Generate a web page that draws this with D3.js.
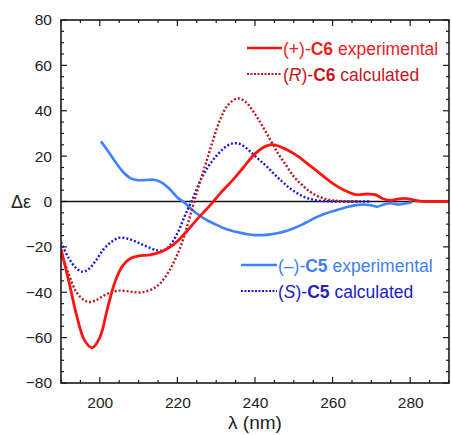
<!DOCTYPE html>
<html>
<head>
<meta charset="utf-8">
<script src="https://cdn.jsdelivr.net/npm/d3@7"></script>
<style>
  html, body { margin: 0; padding: 0; background: #fff; }
  svg { display: block; }
  text { font-family: "Liberation Sans", Arial, sans-serif; }
</style>
</head>
<body>
<svg id="chart" width="452" height="435"></svg>
<script>
// ECD spectra: wavelength (nm) and delta-epsilon pairs
const c6Experimental = [
  [190,-21],[192,-35],[194,-50],[196,-61],[198,-64.5],[200,-60],[202,-47],[204,-35],
  [206,-28],[208,-25],[210,-24],[213,-23.5],[216,-22],[219,-19],[222,-14],[225,-8],
  [228,-2.5],[231,3.5],[234,9],[237,15],[240,21],[243,24.5],[245,25],[248,23],
  [251,20],[254,16],[257,12],[260,8],[263,5],[266,3],[269,3.3],[271,3],[273,1.2],
  [275,0.5],[277,1.2],[279,1.3],[281,0.6],[283,0.1],[286,0],[290,0]
];
const c6Calculated = [
  [190,-22],[192,-32],[194,-40],[196,-43.5],[197.5,-44.3],[199,-43.5],[201,-41.5],
  [203,-40],[205,-39.3],[207,-39.5],[209,-40],[211,-40],[213,-39],[215,-37],[217,-33],
  [219,-27],[221,-19],[223,-8],[225,4],[227,15],[229,26],[231,36],[233,42.5],
  [235.5,45.4],[237.5,44],[240,38.5],[242,33],[244,27],[246,21],[248,16],[250,11],
  [252,7.5],[254,4.5],[256,2.5],[258,1.2],[260,0.5],[263,0.1],[267,0]
];
const c5Experimental = [
  [200.3,26.5],[202,22.5],[204,17.5],[206,13],[208,10.2],[210,9.4],[212,9.5],[214,9.6],
  [216,8.3],[218,5.5],[220,1.8],[222,-0.8],[224,-4],[226,-6.5],[228,-8.6],[230,-10.2],
  [232,-11.8],[234,-12.9],[236,-13.7],[238,-14.4],[240,-14.8],[242,-14.8],[244,-14.5],
  [246,-13.9],[248,-13],[250,-11.8],[252,-10.3],[254,-8.5],[256,-6.8],[258,-5.4],
  [260,-4.3],[262,-3.3],[264,-2.3],[266,-1.6],[268,-1.3],[270,-1.7],[271.5,-2.3],
  [273,-1.4],[275,-0.8],[277,-1.3],[279,-0.8],[280.5,-0.3]
];
const c5Calculated = [
  [190,-18],[192,-25],[194,-29.5],[195.6,-31],[197,-30],[199,-26],[201,-21],[203,-17.8],
  [205,-16],[207,-16.3],[209,-17.5],[211,-19],[213,-20.5],[215,-21.6],[216.5,-21.5],
  [218,-19.5],[220,-14],[222,-6],[224,1.5],[226,9.5],[228,15.5],[230,20],[232,23.5],
  [234,25.5],[235.5,25.6],[237,24.5],[239,21.7],[241,18.5],[243,15.5],[245,12],
  [247,8.8],[249,5.8],[251,3.5],[253,1.8],[255,0.8],[257,0.3],[260,0.05],[270,0]
];

const xDomain = [190, 290];
const yDomain = [-80, 80];
const xTickLabels = [200, 220, 240, 260, 280];
const yTickLabels = [-80, -60, -40, -20, 0, 20, 40, 60, 80];

const margin = { left: 61, right: 3, top: 20, bottom: 52 };
const W = 452, H = 435;
const svg = d3.select("#chart");

const x = d3.scaleLinear().domain(xDomain).range([margin.left, W - margin.right]);
const y = d3.scaleLinear().domain(yDomain).range([H - margin.bottom, margin.top]);

const axisColor = "#1a1a1a";

svg.append("clipPath").attr("id", "plot-clip")
  .append("rect")
  .attr("x", x(xDomain[0])).attr("y", y(yDomain[1]))
  .attr("width", x(xDomain[1]) - x(xDomain[0]))
  .attr("height", y(yDomain[0]) - y(yDomain[1]));

// Inward ticks on all four sides: minor every 5, major every 20
const xMinor = d3.range(190, 291, 5);
const yMinor = d3.range(-80, 81, 5);
const ticksG = svg.append("g").attr("stroke", axisColor).attr("stroke-width", 1.2);
xMinor.forEach(v => {
  const len = (v % 20 === 0) ? 6 : 3;
  ticksG.append("line").attr("x1", x(v)).attr("x2", x(v))
    .attr("y1", y(-80)).attr("y2", y(-80) - len);
  ticksG.append("line").attr("x1", x(v)).attr("x2", x(v))
    .attr("y1", y(80)).attr("y2", y(80) + len);
});
yMinor.forEach(v => {
  const len = (v % 20 === 0) ? 6 : 3;
  ticksG.append("line").attr("y1", y(v)).attr("y2", y(v))
    .attr("x1", x(190)).attr("x2", x(190) + len);
  ticksG.append("line").attr("y1", y(v)).attr("y2", y(v))
    .attr("x1", x(290)).attr("x2", x(290) - len);
});

// Tick labels via d3 axes (tick marks hidden; drawn above)
const xAxis = d3.axisBottom(x).tickValues(xTickLabels).tickSize(0).tickPadding(14);
const yAxis = d3.axisLeft(y).tickValues(yTickLabels).tickSize(0).tickPadding(9);
const gx = svg.append("g").attr("transform", `translate(0,${y(-80)})`).call(xAxis);
const gy = svg.append("g").attr("transform", `translate(${x(190)},0)`).call(yAxis);
[gx, gy].forEach(g => {
  g.select(".domain").remove();
  g.selectAll("text").attr("font-size", 15.5).attr("fill", "#222")
    .attr("font-family", "'Liberation Sans', Arial, sans-serif");
});

// Zero line
svg.append("line")
  .attr("x1", x(190)).attr("x2", x(290))
  .attr("y1", y(0)).attr("y2", y(0))
  .attr("stroke", "#111").attr("stroke-width", 1.3);

// Spectra
const line = d3.line().x(d => x(d[0])).y(d => y(d[1])).curve(d3.curveCatmullRom.alpha(0.5));
const curves = svg.append("g").attr("clip-path", "url(#plot-clip)").attr("fill", "none");

const series = [
  { data: c5Experimental, color: "#3d83ff", width: 2.6, dash: null },
  { data: c5Calculated, color: "#1a1ad8", width: 2.4, dash: "2,2" },
  { data: c6Calculated, color: "#b3191e", width: 2.4, dash: "2,2" },
  { data: c6Experimental, color: "#ff1414", width: 2.8, dash: null }
];
series.forEach(s => {
  curves.append("path").datum(s.data)
    .attr("d", line)
    .attr("stroke", s.color)
    .attr("stroke-width", s.width)
    .attr("stroke-dasharray", s.dash)
    .attr("stroke-linejoin", "round");
});

// Frame
svg.append("rect")
  .attr("x", x(190)).attr("y", y(80))
  .attr("width", x(290) - x(190)).attr("height", y(-80) - y(80))
  .attr("fill", "none").attr("stroke", axisColor).attr("stroke-width", 1.6);

// Axis titles
svg.append("text").attr("x", 11).attr("y", y(0) + 6)
  .attr("font-size", 18).attr("fill", "#222").text("Δε");
svg.append("text").attr("x", 255).attr("y", 429).attr("text-anchor", "middle")
  .attr("font-size", 19).attr("fill", "#222").text("λ (nm)");

// Legends
function legendEntry(lx1, lx2, ly, color, width, dash, textColor, parts) {
  svg.append("line").attr("x1", lx1).attr("x2", lx2).attr("y1", ly).attr("y2", ly)
    .attr("stroke", color).attr("stroke-width", width).attr("stroke-dasharray", dash);
  const t = svg.append("text").attr("x", lx2 + 1).attr("y", ly + 6.5)
    .attr("font-size", 17.5).attr("fill", textColor);
  parts.forEach(p => {
    const ts = t.append("tspan").text(p.t);
    if (p.b) ts.attr("font-weight", "bold");
    if (p.i) ts.attr("font-style", "italic");
  });
}
legendEntry(247, 282, 48, "#ff1414", 2.6, null, "#ee1c24",
  [{ t: "(+)-" }, { t: "C6", b: true }, { t: " experimental" }]);
legendEntry(247, 282, 74, "#b3191e", 2, "2,1.5", "#c4161c",
  [{ t: "(" }, { t: "R", i: true }, { t: ")-" }, { t: "C6", b: true }, { t: " calculated" }]);
legendEntry(241, 277, 265, "#3d83ff", 2.6, null, "#3d7ff5",
  [{ t: "(–)-" }, { t: "C5", b: true }, { t: " experimental" }]);
legendEntry(241, 277, 291, "#1a1ad8", 2, "2,1.5", "#2222c4",
  [{ t: "(" }, { t: "S", i: true }, { t: ")-" }, { t: "C5", b: true }, { t: " calculated" }]);
</script>
</body>
</html>
